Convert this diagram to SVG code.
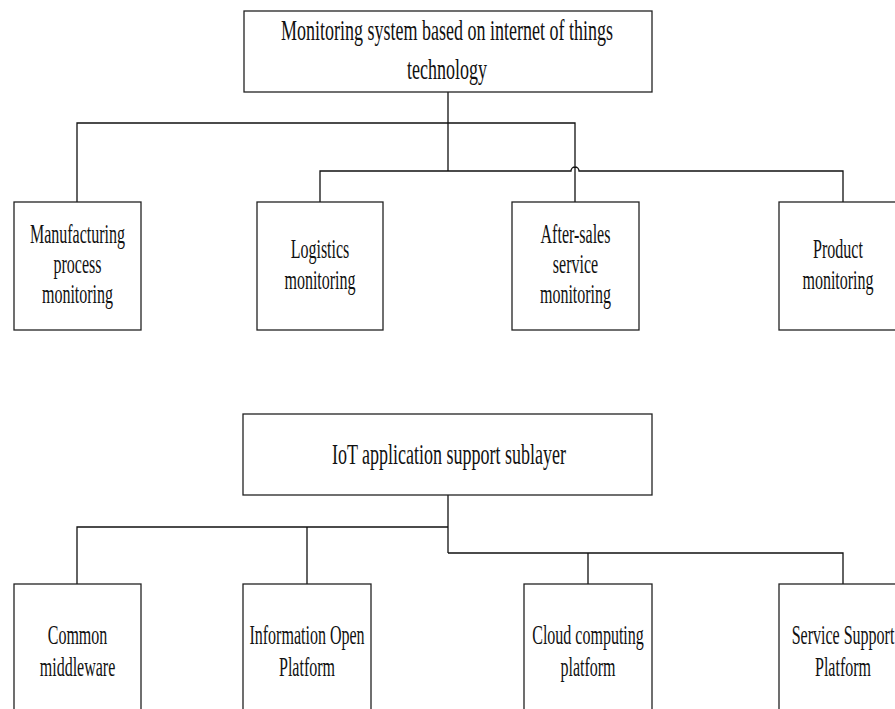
<svg xmlns="http://www.w3.org/2000/svg" width="895" height="709" viewBox="0 0 895 709">
<style>
.box{fill:#fff;stroke:#222;stroke-width:1.3}
.ln{fill:none;stroke:#111;stroke-width:1.3}
.t{font-family:"Liberation Serif","Times New Roman",serif;font-size:27px;fill:#111;text-anchor:middle}
.tb{font-size:29px}
</style>
<rect width="895" height="709" fill="#fff"/>
<g id="connectors">
<path class="ln" d="M448 92V171M77 202V123H575V202M320 202V171H571A4 4 0 0 1 579 171H843V202"/>
<path class="ln" d="M448 495V553M77 584V527H448M307 527V584M448 553H843V584M588 553V584"/>
</g>
<g id="n-root">
<rect class="box" x="244" y="11" width="408" height="81"/>
<g transform="translate(447,0) scale(0.621,1)"><text class="t tb"><tspan x="0" y="40">Monitoring system based on internet of things</tspan><tspan x="0" y="79">technology</tspan></text></g>
</g>
<g id="n-manufacturing">
<rect class="box" x="14" y="202" width="127" height="128"/>
<g transform="translate(77.5,0) scale(0.593,1)"><text class="t"><tspan x="0" y="243">Manufacturing</tspan><tspan x="0" y="273">process</tspan><tspan x="0" y="303">monitoring</tspan></text></g>
</g>
<g id="n-logistics">
<rect class="box" x="257" y="202" width="126" height="128"/>
<g transform="translate(320,0) scale(0.593,1)"><text class="t"><tspan x="0" y="258">Logistics</tspan><tspan x="0" y="289">monitoring</tspan></text></g>
</g>
<g id="n-aftersales">
<rect class="box" x="512" y="202" width="127" height="128"/>
<g transform="translate(575.5,0) scale(0.593,1)"><text class="t"><tspan x="0" y="243">After-sales</tspan><tspan x="0" y="273">service</tspan><tspan x="0" y="303">monitoring</tspan></text></g>
</g>
<g id="n-product">
<rect class="box" x="779" y="202" width="128" height="128"/>
<g transform="translate(838,0) scale(0.593,1)"><text class="t"><tspan x="0" y="258">Product</tspan><tspan x="0" y="289">monitoring</tspan></text></g>
</g>
<g id="n-iot">
<rect class="box" x="243" y="414" width="409" height="81"/>
<g transform="translate(449,0) scale(0.621,1)"><text class="t tb" x="0" y="464">IoT application support sublayer</text></g>
</g>
<g id="n-middleware">
<rect class="box" x="14" y="584" width="127" height="140"/>
<g transform="translate(77.5,0) scale(0.593,1)"><text class="t"><tspan x="0" y="644">Common</tspan><tspan x="0" y="676">middleware</tspan></text></g>
</g>
<g id="n-infoopen">
<rect class="box" x="243" y="584" width="128" height="140"/>
<g transform="translate(307,0) scale(0.593,1)"><text class="t"><tspan x="0" y="644">Information Open</tspan><tspan x="0" y="676">Platform</tspan></text></g>
</g>
<g id="n-cloud">
<rect class="box" x="524" y="584" width="128" height="140"/>
<g transform="translate(588,0) scale(0.593,1)"><text class="t"><tspan x="0" y="644">Cloud computing</tspan><tspan x="0" y="676">platform</tspan></text></g>
</g>
<g id="n-service">
<rect class="box" x="779" y="584" width="128" height="140"/>
<g transform="translate(843,0) scale(0.593,1)"><text class="t"><tspan x="0" y="644">Service Support</tspan><tspan x="0" y="676">Platform</tspan></text></g>
</g>
</svg>
